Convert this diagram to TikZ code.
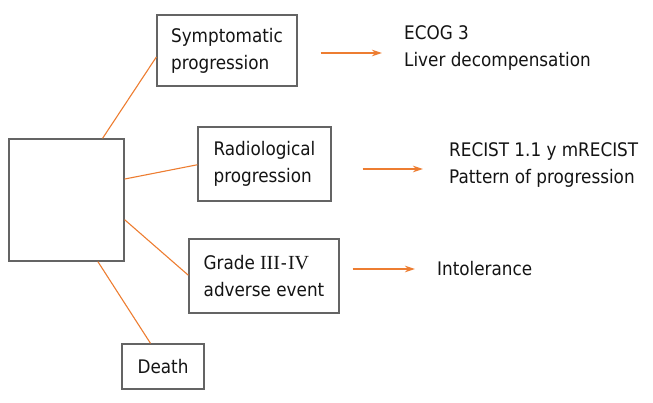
\documentclass[tikz,border=0pt]{standalone}
\usepackage{fontspec}
\setmainfont{DejaVu Sans Condensed}
\newfontfamily\romfont{Liberation Serif}
\usetikzlibrary{calc,arrows.meta}
\definecolor{conn}{RGB}{237,125,49}
\definecolor{boxgray}{RGB}{100,100,100}
\definecolor{txt}{RGB}{20,20,20}
\tikzset{
  x=1pt,y=1pt,
  box/.style={draw=boxgray,line width=1.3pt,minimum width=#1,inner sep=0pt,align=left,text=txt,font=\fontsize{18.7}{27}\selectfont},
  label/.style={inner sep=0pt,anchor=west,align=left,text=txt,font=\fontsize{18.7}{27}\selectfont},
  link/.style={draw=conn,line width=1.1pt},
  arr/.style={draw=conn,line width=1.1pt,-{Stealth[length=10pt,width=6.5pt]}}
}
\begin{document}
\begin{tikzpicture}
\useasboundingbox (0,0) rectangle (653,402);
\node[box=115pt,minimum height=122pt] (main) at (66.5,202) {};
\node[box=140pt,minimum height=71pt] (symp) at (227,351.5) {Symptomatic\\progression};
\node[box=133pt,minimum height=74pt] (radio) at (264.5,238) {Radiological\\progression};
\node[box=150pt,minimum height=74pt] (grade) at (264,126) {Grade\hspace{5pt}{\romfont\fontsize{20}{27}\selectfont III}\hspace{1pt}-\hspace{1pt}{\romfont\fontsize{20}{27}\selectfont IV}\\adverse event};
\node[box=82pt,minimum height=45pt] (death) at (163,35.5) {Death};
\node[label] (t1) at (404,353.5) {ECOG 3\\Liver decompensation};
\node[label] (t2) at (449,237) {RECIST 1.1 y mRECIST\\Pattern of progression};
\node[label] (t3) at (437,133) {Intolerance};
\draw[link] ($(main.north west)!0.81!(main.north east)$) -- ($(symp.north west)!0.59!(symp.south west)$);
\draw[link] ($(main.north east)!0.33!(main.south east)$) -- ($(radio.north west)!0.51!(radio.south west)$);
\draw[link] ($(main.north east)!0.66!(main.south east)$) -- ($(grade.north west)!0.49!(grade.south west)$);
\draw[link] ($(main.south west)!0.77!(main.south east)$) -- ($(death.north west)!0.35!(death.north east)$);
\draw[arr] ($(symp.east)+(23,-2.5)$) -- ($(t1.west)+(-22,-4.5)$);
\draw[arr] ($(radio.east)+(31,-5)$) -- ($(t2.west)+(-26,-4)$);
\draw[arr] ($(grade.east)+(13,7)$) -- ($(t3.west)+(-22,0)$);
\end{tikzpicture}
\end{document}
